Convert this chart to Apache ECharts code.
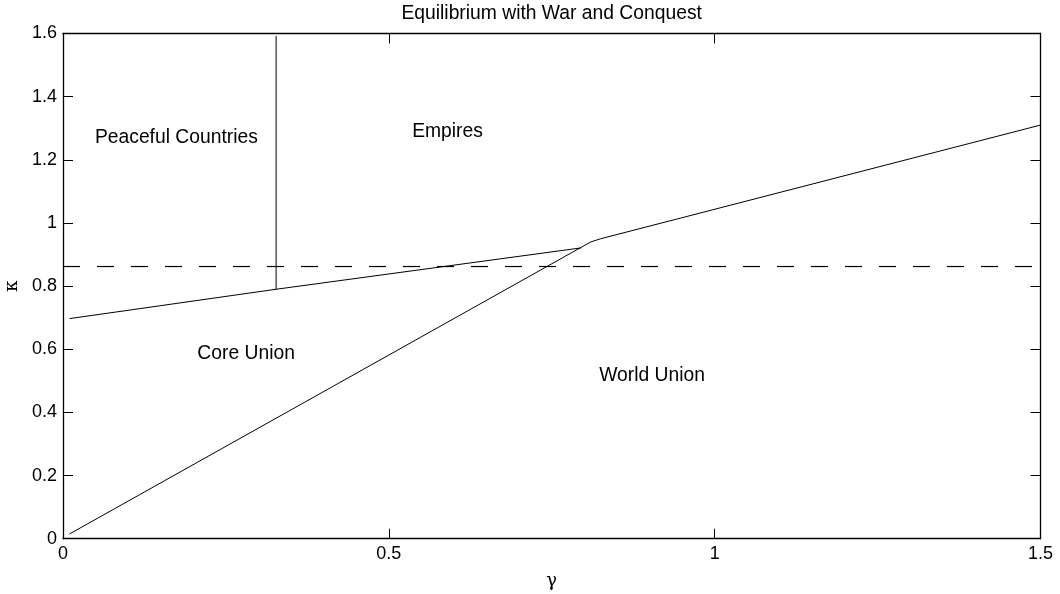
<!DOCTYPE html>
<html>
<head>
<meta charset="utf-8">
<script src="https://cdn.jsdelivr.net/npm/echarts@6/dist/echarts.min.js"></script>
<style>
html,body{margin:0;padding:0;background:#fff;}
#chart{width:1060px;height:594px;}
</style>
</head>
<body>
<div id="chart"></div>
<script>
// ---- data ----
const titleText = 'Equilibrium with War and Conquest';
const xName = 'γ';
const yName = 'κ';
const xTicks = [0, 0.5, 1, 1.5];
const yTicks = [0, 0.2, 0.4, 0.6, 0.8, 1, 1.2, 1.4, 1.6];

// core union / empires boundary (left sloping line)
const coreGamma = [0.01, 0.327, 0.795];
const coreKappa = [0.697, 0.790, 0.921];
// world union boundary (diagonal then upper line)
const worldGamma = [0.01, 0.81, 0.825, 1.5];
const worldKappa = [0.015, 0.94, 0.95, 1.31];
// peaceful countries / empires boundary (vertical)
const peaceGamma = [0.327, 0.327];
const peaceKappa = [0.790, 1.592];
// dashed threshold
const dashGamma = [0, 1.5];
const dashKappa = [0.862, 0.862];

// region labels
const regionNames = ['Peaceful Countries', 'Empires', 'Core Union', 'World Union'];
const regionGamma = [0.174, 0.590, 0.281, 0.904];
const regionKappa = [1.270, 1.288, 0.585, 0.515];

// ---- chart ----
const pairs = (xs, ys) => xs.map((x, i) => [x, ys[i]]);
const font = 'Liberation Sans, Arial, sans-serif';
const lineSeries = (xs, ys, dashed) => ({
  type: 'line', data: pairs(xs, ys), symbol: 'none', silent: true,
  lineStyle: { color: '#000', width: dashed ? 1.2 : 1, type: dashed ? [17, 17] : 'solid' },
  z: 3
});

const chart = echarts.init(document.getElementById('chart'), null, { renderer: 'canvas' });
chart.setOption({
  animation: false,
  backgroundColor: '#fff',
  title: {
    text: titleText, left: 551.7, top: 4, textAlign: 'center', padding: 0,
    textStyle: { fontFamily: font, fontSize: 19.3, fontWeight: 'normal', color: '#000' }
  },
  grid: { left: 63, right: 19.5, top: 33.5, bottom: 55.3, containLabel: false, outerBoundsMode: 'none' },
  xAxis: [{
    type: 'value', min: xTicks[0], max: xTicks[xTicks.length - 1], interval: 0.5,
    name: xName, nameLocation: 'middle', nameGap: 34,
    nameTextStyle: { fontFamily: 'DejaVu Serif, serif', fontSize: 18, color: '#000' },
    axisLine: { show: true, onZero: false, lineStyle: { color: '#000', width: 1.3 } },
    axisTick: { show: true, inside: true, length: 10, lineStyle: { color: '#000' } },
    axisLabel: { fontFamily: font, fontSize: 18, color: '#000', margin: 6 },
    splitLine: { show: false }
  }, {
    type: 'value', position: 'top', min: xTicks[0], max: xTicks[xTicks.length - 1], interval: 0.5,
    axisLine: { show: true, onZero: false, lineStyle: { color: '#000', width: 1.3 } },
    axisTick: { show: true, inside: true, length: 10, lineStyle: { color: '#000' } },
    axisLabel: { show: false }, splitLine: { show: false }
  }],
  yAxis: [{
    type: 'value', min: yTicks[0], max: yTicks[yTicks.length - 1], interval: 0.2,
    name: yName, nameLocation: 'middle', nameGap: 40, nameRotate: 90,
    nameTextStyle: { fontFamily: 'DejaVu Serif, serif', fontSize: 18, color: '#000' },
    axisLine: { show: true, onZero: false, lineStyle: { color: '#000', width: 1.3 } },
    axisTick: { show: true, inside: true, length: 10, lineStyle: { color: '#000' } },
    axisLabel: { fontFamily: font, fontSize: 18, color: '#000', margin: 6 },
    splitLine: { show: false }
  }, {
    type: 'value', position: 'right', min: yTicks[0], max: yTicks[yTicks.length - 1], interval: 0.2,
    axisLine: { show: true, onZero: false, lineStyle: { color: '#000', width: 1.3 } },
    axisTick: { show: true, inside: true, length: 10, lineStyle: { color: '#000' } },
    axisLabel: { show: false }, splitLine: { show: false }
  }],
  series: [
    lineSeries(dashGamma, dashKappa, true),
    lineSeries(coreGamma, coreKappa, false),
    lineSeries(worldGamma, worldKappa, false),
    lineSeries(peaceGamma, peaceKappa, false),
    {
      type: 'scatter', symbolSize: 0, silent: true,
      itemStyle: { opacity: 1, color: '#000' },
      data: regionNames.map((n, i) => ({ name: n, value: [regionGamma[i], regionKappa[i]] })),
      label: {
        show: true, position: 'inside', formatter: p => p.name,
        fontFamily: font, fontSize: 19.3, color: '#000'
      }
    }
  ]
});
</script>
</body>
</html>
